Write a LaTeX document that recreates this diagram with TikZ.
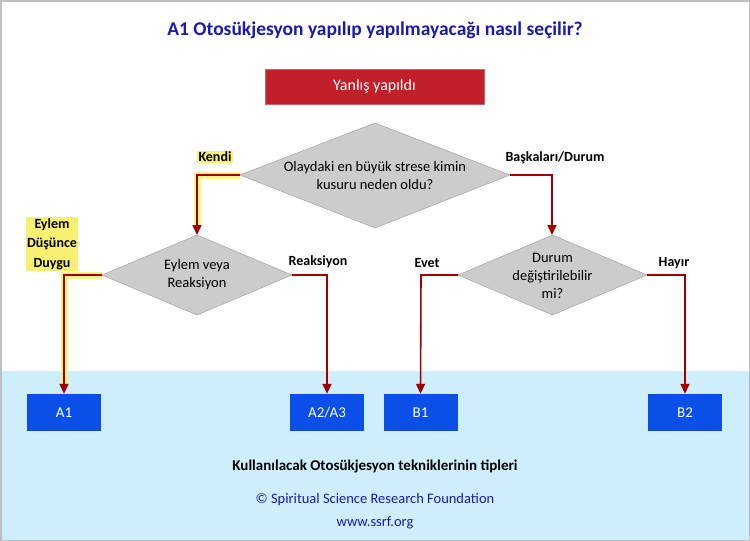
\documentclass[tikz,border=0pt]{standalone}
\usepackage{fontspec}
\setmainfont{Carlito}
\usetikzlibrary{shapes.geometric,arrows.meta}
\definecolor{tblue}{HTML}{1A1AB0}
\definecolor{dred}{HTML}{A00000}
\definecolor{boxred}{HTML}{C1202B}
\definecolor{band}{HTML}{CDEEFA}
\definecolor{bbox}{HTML}{0A4FE8}
\definecolor{dgray}{HTML}{CCCCCC}
\definecolor{glow}{HTML}{F8F070}
\tikzset{
  dtext/.style={align=center,font=\fontsize{14.5}{18}\selectfont},
  dshape/.style={draw=gray!80,fill=dgray},
  bluebox/.style={draw=none,fill=bbox,text=white,minimum width=74pt,minimum height=37pt,font=\fontsize{15}{17}\selectfont},
  conn/.style={dred,line width=1.6pt,-{Triangle[length=10pt,width=9pt]}},
  glowline/.style={glow,line width=7pt,opacity=0.8},
  lab/.style={font=\bfseries\fontsize{14}{17}\selectfont,align=center},
  hl/.style={lab,fill=glow,inner sep=1.5pt}
}
\begin{document}
\begin{tikzpicture}[x=1pt,y=-1pt]
\useasboundingbox (0,0) rectangle (750,541);
\fill[white] (0,0) rectangle (750,541);
\fill[band] (0,371) rectangle (750,541);
\draw[gray!50,line width=1.5pt] (0.75,0.75) rectangle (749.25,540.25);
\node[font=\bfseries\fontsize{19.5}{22}\selectfont,text=tblue] (title) at (375,30) {A1 Otosükjesyon yapılıp yapılmayacağı nasıl seçilir?};
\node[fill=boxred,draw=dred!60,text=white,minimum width=219pt,minimum height=35pt,font=\fontsize{16}{18}\selectfont] (start) at (374.5,86.5) {Yanlış yapıldı};
\draw[dshape] (240,175) -- (375,123) -- (510,175) -- (375,228) -- cycle;
\draw[dshape] (102,275) -- (197,235) -- (292,275) -- (197,315) -- cycle;
\draw[dshape] (458,275) -- (552.5,235) -- (647,275) -- (552.5,315) -- cycle;
\coordinate (d1w) at (240,175); \coordinate (d1e) at (510,175);
\coordinate (d2w) at (102,275); \coordinate (d2e) at (292,275); \coordinate (d2n) at (197,235);
\coordinate (d3w) at (458,275); \coordinate (d3e) at (647,275); \coordinate (d3n) at (552,235);
\node[dtext] (t1) at (375,176) {Olaydaki en büyük strese kimin\\kusuru neden oldu?};
\node[dtext] (t2) at (197,275) {Eylem veya\\Reaksiyon};
\node[dtext] (t3) at (552.5,276) {Durum\\değiştirilebilir\\mi?};
\node[bluebox] (a1) at (64,412.5) {A1};
\node[bluebox] (a2) at (327,412.5) {A2/A3};
\node[bluebox] (b1) at (420.5,412.5) {B1};
\node[bluebox] (b2) at (685,412.5) {B2};
\coordinate (c1) at (197,175);
\coordinate (c2) at (552,175);
\coordinate (c3) at (64,275);
\coordinate (c4) at (327,275);
\coordinate (c5) at (421,275);
\coordinate (c6) at (685,275);
\draw[glowline] (d1w) -- (c1) -- ([yshift=8pt]d2n);
\draw[glowline] (d2w) -- (c3) -- ([yshift=8pt]a1.north);
\draw[conn] (d1w) -- (c1) -- (d2n);
\draw[conn] (d1e) -- (c2) -- (d3n);
\draw[conn] (d2w) -- (c3) -- (a1.north);
\draw[conn] (d2e) -- (c4) -- (a2.north);
\draw[conn] (d3w) -- (c5) -- (b1.north);
\draw[conn] (d3e) -- (c6) -- (b2.north);
\node[hl] (kendi) at (215,157) {Kendi};
\node[lab] (bask) at (555,158) {Başkaları/Durum};
\node[hl,font=\bfseries\fontsize{14}{19.5}\selectfont] (edd) at (52,244) {Eylem\\Düşünce\\Duygu};
\node[lab] (reak) at (318,262) {Reaksiyon};
\node[lab] (evet) at (427,263) {Evet};
\node[lab] (hayir) at (674,263) {Hayır};
\node[font=\bfseries\fontsize{15}{17}\selectfont] (kul) at (375,466) {Kullanılacak Otosükjesyon tekniklerinin tipleri};
\node[font=\fontsize{14.5}{17}\selectfont,text=tblue] (copy) at (375,500) {© Spiritual Science Research Foundation};
\node[font=\fontsize{14.5}{17}\selectfont,text=tblue] (www) at (375,523) {www.ssrf.org};
\end{tikzpicture}
\end{document}
